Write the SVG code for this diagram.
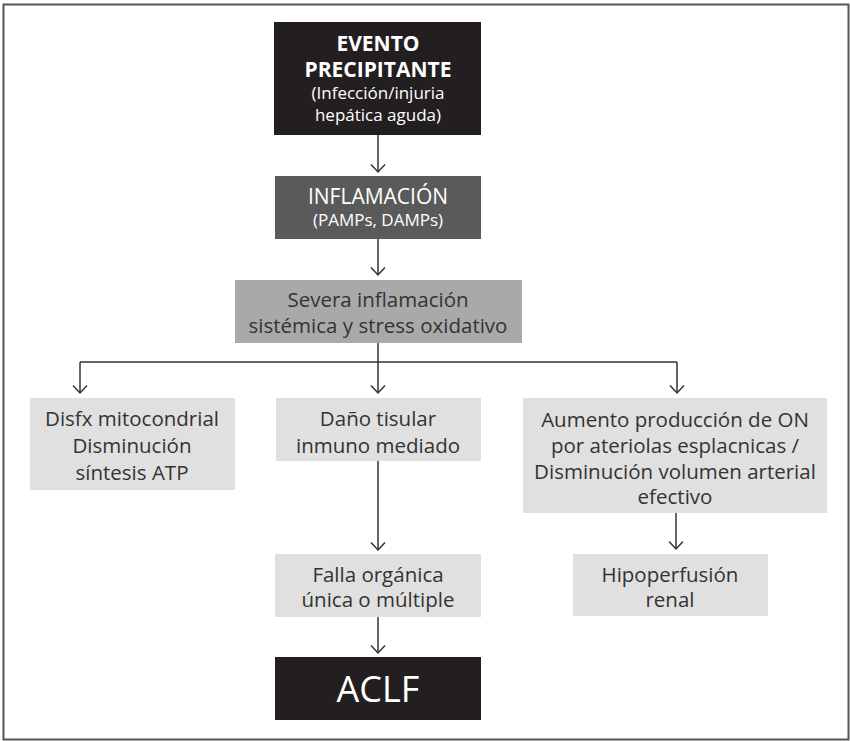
<svg xmlns="http://www.w3.org/2000/svg" width="850" height="741" viewBox="0 0 850 741">
<defs>
<marker id="arr" markerWidth="10" markerHeight="16" refX="8.5" refY="8" orient="auto" markerUnits="userSpaceOnUse" viewBox="0 0 10 16">
<path d="M1,1 L8.5,8 L1,15" fill="none" stroke="#333" stroke-width="1.5"/>
</marker>
</defs>
<style>
text{font-family:"Open Sans","Noto Sans","Liberation Sans",sans-serif;text-anchor:middle}
.t{font-size:20.5px;fill:#333}
.w{fill:#fff}
.c{stroke:#333;stroke-width:1.5;fill:none}
.light{fill:#e0e0e0}
</style>
<rect x="3.5" y="4.5" width="845" height="735" fill="#fff" stroke="#555" stroke-width="2"/>
<g id="connectors">
<line class="c" x1="378" y1="135" x2="378" y2="172" marker-end="url(#arr)"/>
<line class="c" x1="378" y1="239" x2="378" y2="275" marker-end="url(#arr)"/>
<line class="c" x1="378" y1="343" x2="378" y2="362"/>
<line class="c" x1="80" y1="362" x2="677" y2="362"/>
<line class="c" x1="80" y1="362" x2="80" y2="393" marker-end="url(#arr)"/>
<line class="c" x1="378" y1="362" x2="378" y2="393" marker-end="url(#arr)"/>
<line class="c" x1="677" y1="362" x2="677" y2="393" marker-end="url(#arr)"/>
<line class="c" x1="378" y1="461" x2="378" y2="550" marker-end="url(#arr)"/>
<line class="c" x1="676" y1="513" x2="676" y2="549" marker-end="url(#arr)"/>
<line class="c" x1="378" y1="617" x2="378" y2="653" marker-end="url(#arr)"/>
</g>
<g id="evento">
<rect x="274" y="22" width="207" height="113" fill="#231f20"/>
<text class="w" x="378" y="51" font-size="21" font-weight="bold">EVENTO</text>
<text class="w" x="378" y="77" font-size="21" font-weight="bold">PRECIPITANTE</text>
<text class="w" x="378" y="99" font-size="17">(Infección/injuria</text>
<text class="w" x="378" y="121" font-size="17">hepática aguda)</text>
</g>
<g id="inflamacion">
<rect x="275" y="176" width="206" height="63" fill="#5a5a5a"/>
<text class="w" x="378" y="204" font-size="21">INFLAMACIÓN</text>
<text class="w" x="378" y="226" font-size="17">(PAMPs, DAMPs)</text>
</g>
<g id="severa">
<rect x="235" y="280" width="287" height="63" fill="#a9a9a9"/>
<text class="t" x="378" y="307" font-size="22">Severa inflamación</text>
<text class="t" x="378" y="333" font-size="22">sistémica y stress oxidativo</text>
</g>
<g id="disfx">
<rect class="light" x="30" y="398" width="205" height="92"/>
<text class="t" x="132" y="426">Disfx mitocondrial</text>
<text class="t" x="132" y="453">Disminución</text>
<text class="t" x="132" y="480">síntesis ATP</text>
</g>
<g id="dano">
<rect class="light" x="276" y="398" width="205" height="63"/>
<text class="t" x="378" y="426">Daño tisular</text>
<text class="t" x="378" y="453">inmuno mediado</text>
</g>
<g id="aumento">
<rect class="light" x="523" y="398" width="304" height="115"/>
<text class="t" x="675" y="427">Aumento producción de ON</text>
<text class="t" x="675" y="453">por ateriolas esplacnicas /</text>
<text class="t" x="675" y="479">Disminución volumen arterial</text>
<text class="t" x="675" y="504">efectivo</text>
</g>
<g id="falla">
<rect class="light" x="275" y="554" width="206" height="63"/>
<text class="t" x="378" y="582">Falla orgánica</text>
<text class="t" x="378" y="607">única o múltiple</text>
</g>
<g id="hipoperfusion">
<rect class="light" x="573" y="554" width="195" height="62"/>
<text class="t" x="670" y="582">Hipoperfusión</text>
<text class="t" x="670" y="607">renal</text>
</g>
<g id="aclf">
<rect x="275" y="657" width="206" height="63" fill="#231f20"/>
<text class="w" x="378" y="702" font-size="36">ACLF</text>
</g>
</svg>
